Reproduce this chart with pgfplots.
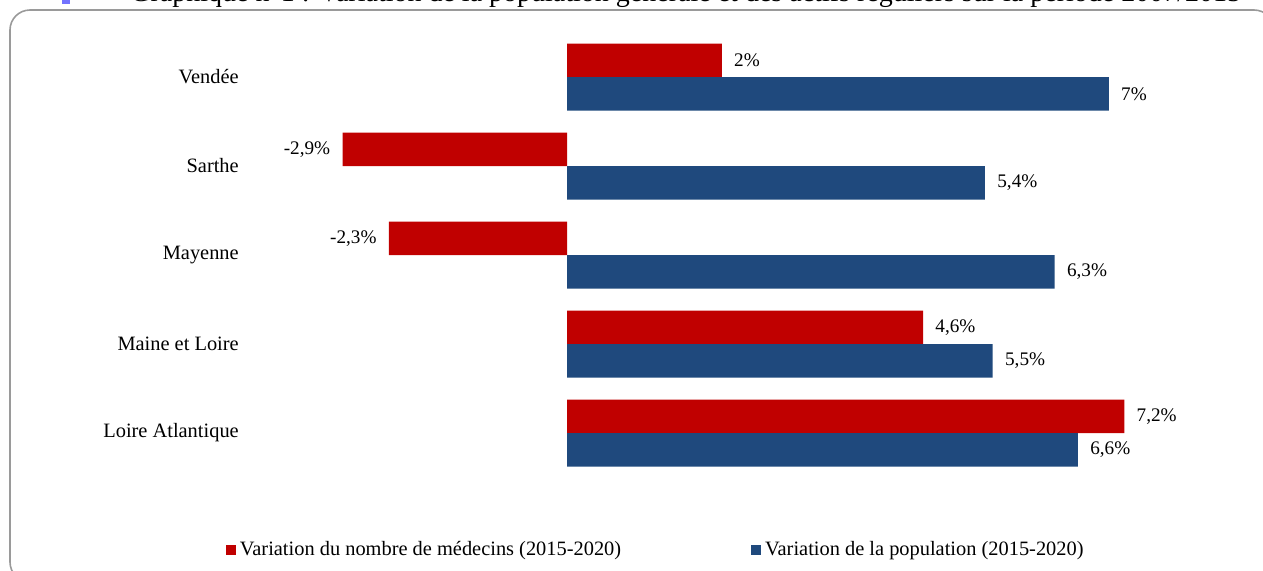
\documentclass[border=0pt]{standalone}
\usepackage{fontspec}
\setmainfont{Liberation Serif}
\usepackage{pgfplots}
\pgfplotsset{compat=1.18}
\definecolor{cred}{HTML}{C00000}
\definecolor{cblue}{HTML}{1F497D}
\definecolor{frame}{HTML}{9A9A9A}
\begin{document}
\fontsize{10pt}{12pt}\selectfont
\begin{tikzpicture}
\useasboundingbox (0,0) rectangle (631.5pt,285pt);
\begin{scope}
\clip (0,0) rectangle (631.5pt,285pt);
\draw[frame, line width=0.8pt, rounded corners=10pt] (5pt,-6pt) rectangle (637pt,280pt);
\node[anchor=base west, font=\fontsize{14pt}{16pt}\selectfont, inner sep=0pt] at (65pt,284.3pt) {Graphique n°1 : Variation de la population générale et des actifs réguliers sur la période 2007/2015};
\fill[blue!55!white] (31pt,283pt) rectangle (35pt,287pt);
\end{scope}
\begin{axis}[
  at={(122.9pt,46.25pt)}, anchor=south west,
  scale only axis, width=470.2pt, height=222.5pt,
  xbar, bar width=16.75pt,
  xmin=-4.15, xmax=8, ymin=-0.5, ymax=4.5,
  ytick={0,1,2,3,4},
  yticklabels={Loire Atlantique, Maine et Loire, Mayenne, Sarthe, Vendée},
  xtick=\empty,
  axis line style={draw=none},
  major tick length=0pt,
  clip=false,
  yticklabel style={font=\fontsize{10.2pt}{12pt}\selectfont},
  /pgf/number format/assume math mode=true,
  /pgf/number format/use comma,
  point meta=x,
  nodes near coords={\pgfmathprintnumber{\pgfplotspointmeta}\%},
  nodes near coords align=horizontal,
  every node near coord/.append style={font=\fontsize{9.6pt}{11pt}\selectfont, text=black, inner xsep=6pt},
  legend style={at={(0.437,-0.163)}, anchor=center, draw=none, legend columns=2,
    font=\fontsize{10.2pt}{12pt}\selectfont,
    nodes={inner xsep=2pt},
    /tikz/every even column/.append style={column sep=63pt}},
  legend image code/.code={\fill[#1, draw=none] (0pt,-2.5pt) rectangle (5pt,2.5pt);},
]
\addplot[fill=cred, draw=none, bar shift=8.375pt] coordinates {(7.2,0) (4.6,1) (-2.3,2) (-2.9,3) (2,4)};
\addlegendentry{Variation du nombre de médecins (2015-2020)}
\addplot[fill=cblue, draw=none, bar shift=-8.375pt] coordinates {(6.6,0) (5.5,1) (6.3,2) (5.4,3) (7,4)};
\addlegendentry{Variation de la population (2015-2020)}
\end{axis}
\end{tikzpicture}
\end{document}
